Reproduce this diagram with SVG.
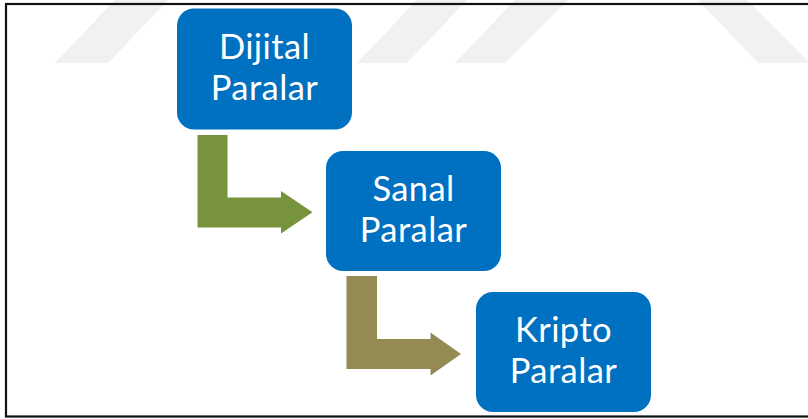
<svg xmlns="http://www.w3.org/2000/svg" width="808" height="419" viewBox="0 0 808 419">
  <style>
    .box { fill: #0070C0; }
    .label { font-family: Lato, "Open Sans", "DejaVu Sans", sans-serif; font-size: 34.5px; letter-spacing: 0.4px; fill: #ffffff; text-anchor: middle; }
    .mark { fill: #f1f1f1; }
  </style>
  <rect x="0" y="0" width="808" height="419" fill="#ffffff"/>

  <!-- faint background chevrons -->
  <g id="background-marks">
    <polygon class="mark" points="55,63 108,63 168,0 115,0"/>
    <polygon class="mark" points="357,63 407,63 467,0 417,0"/>
    <polygon class="mark" points="455,63 505,63 568,0 515,0"/>
    <polygon class="mark" points="698,0 747,0 810,63 758,63"/>
  </g>

  <!-- outer frame -->
  <rect x="6" y="4" width="812" height="412.5" fill="none" stroke="#111111" stroke-width="2.2"/>

  <!-- bent connectors -->
  <g id="connectors">
    <path id="arrow-1" fill="#77933C" d="M197.5,135 H227.5 V197.5 H281 V191 L312.5,212.3 L281,233.5 V227.5 H197.5 Z"/>
    <path id="arrow-2" fill="#948A54" d="M346.5,276 H377 V339 H430.5 V332.5 L461,354 L430.5,375.5 V369 H346.5 Z"/>
  </g>

  <g id="node-dijital">
    <rect class="box" x="177" y="8.5" width="175" height="121" rx="17"/>
    <text class="label" x="264.5" y="58.5"><tspan x="264.5">Dijital</tspan><tspan x="264.5" dy="41.5">Paralar</tspan></text>
  </g>

  <g id="node-sanal">
    <rect class="box" x="326" y="151" width="175" height="120" rx="17"/>
    <text class="label" x="413.5" y="200.5"><tspan x="413.5">Sanal</tspan><tspan x="413.5" dy="41.5">Paralar</tspan></text>
  </g>

  <g id="node-kripto">
    <rect class="box" x="476" y="292" width="175" height="120" rx="17"/>
    <text class="label" x="563.5" y="341.5"><tspan x="563.5">Kripto</tspan><tspan x="563.5" dy="41.5">Paralar</tspan></text>
  </g>
</svg>
